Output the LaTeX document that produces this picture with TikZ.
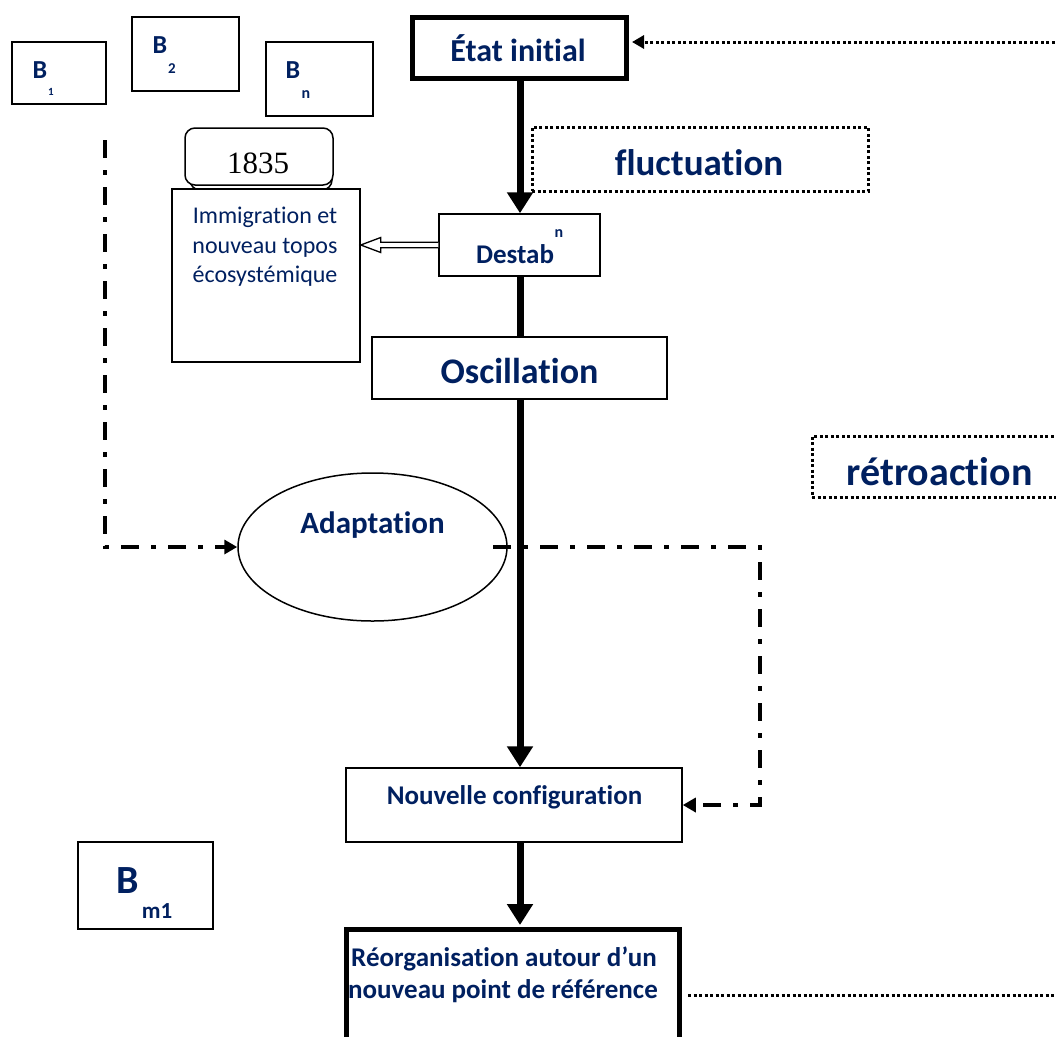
\documentclass[tikz,border=0pt]{standalone}
\usepackage{fontspec}
\setmainfont[Ligatures=NoCommon]{Carlito}
\newfontfamily\tnr{Liberation Serif}
\usetikzlibrary{arrows.meta,shapes.geometric,calc}
\definecolor{navy}{RGB}{0,32,96}
\begin{document}
\begin{tikzpicture}[x=1pt,y=-1pt,
 thinbox/.style={draw, line width=1.5pt, fill=white, inner sep=0pt},
 thickbox/.style={draw, line width=5pt, fill=white, inner sep=0pt},
 dotbox/.style={draw, line width=3pt, dash pattern=on 3pt off 2.5pt, inner sep=0pt},
 lbl/.style={text=navy, font=\bfseries\fontsize{#1}{#1}\selectfont, inner sep=0pt, anchor=base},
 rlbl/.style={text=navy, font=\fontsize{#1}{#1}\selectfont, inner sep=0pt, anchor=base},
 mainarrow/.style={line width=7pt, -{Triangle[width=25pt,length=21pt]}},
 mainline/.style={line width=7pt},
 dashdot/.style={line width=4pt, dash pattern=on 18pt off 12pt on 5pt off 12pt, -{Triangle[width=14pt,length=13pt]}},
 dotline/.style={line width=3pt, dash pattern=on 3pt off 2.5pt}
]
\fill[white] (0,0) rectangle (1056,1036);
\clip (0,0) rectangle (1056,1036);

% small B boxes
\node[thinbox, minimum width=94pt, minimum height=62pt] (B1) at (59,73) {};
\node[lbl=26] (B1t) at (40,78) {B};
\node[lbl=11] (B1s) at (51,95) {1};
\node[thinbox, minimum width=107pt, minimum height=74pt] (B2) at (185.5,54) {};
\node[lbl=26] (B2t) at (160,53) {B};
\node[lbl=15] (B2s) at (172,73) {2};
\node[thinbox, minimum width=107pt, minimum height=74pt] (Bn) at (319.5,79) {};
\node[lbl=26] (Bnt) at (293,78) {B};
\node[lbl=16] (Bns) at (306,98) {n};

% 1835 box with shadow and immigration box
\node[draw, line width=1.5pt, fill=white, rounded corners=10pt, minimum width=142pt, minimum height=55pt] (yrsh) at (261,162.5) {};
\node[draw, line width=1.5pt, fill=white, rounded corners=10pt, minimum width=148pt, minimum height=57pt] (yr) at (259,156.5) {};
\node[text=black, font=\tnr\fontsize{31}{31}\selectfont, inner sep=0pt, anchor=base] (yrt) at (258,173) {1835};
\node[thinbox, minimum width=188pt, minimum height=173pt] (immig) at (266,275.5) {};
\node[rlbl=24] (immig1) at (265,223) {Immigration et};
\node[rlbl=24] (immig2) at (265,253) {nouveau topos};
\node[rlbl=24] (immig3) at (265,282) {écosystémique};

% main column
\node[thickbox, minimum width=214pt, minimum height=61pt] (etat) at (519.5,48) {};
\node[lbl=32] (etatt) at (518,61) {État initial};
\node[dotbox, minimum width=336pt, minimum height=64pt] (fluct) at (700,159) {};
\node[lbl=37] (fluctt) at (699,175) {fluctuation};
\node[thinbox, minimum width=161pt, minimum height=62pt] (destab) at (519.5,245) {};
\node[lbl=27] (destabt) at (515,263) {Destab};
\node[lbl=16] (destabn) at (559,237) {n};
\node[thinbox, minimum width=295pt, minimum height=62pt] (osc) at (519.5,368) {};
\node[lbl=36] (osct) at (519.5,383) {Oscillation};
\node[draw, line width=1.5pt, ellipse, minimum width=269pt, minimum height=148pt, inner sep=0pt] (adapt) at (372.5,547) {};
\node[lbl=31] (adaptt) at (372.5,533) {Adaptation};
\node[thinbox, minimum width=336pt, minimum height=74pt] (nouv) at (514,805) {};
\node[lbl=27] (nouvt) at (514.5,804) {Nouvelle configuration};
\node[thickbox, minimum width=333pt, minimum height=150pt] (reorg) at (513,1004.5) {};
\node[lbl=27] (reorgt1) at (504,966) {Réorganisation autour d’un};
\node[lbl=27] (reorgt2) at (503,998) {nouveau point de référence};
\node[thinbox, minimum width=135pt, minimum height=87pt] (Bm) at (145.5,885.5) {};
\node[lbl=40] (Bmt) at (127.5,893) {B};
\node[lbl=23] (Bms) at (157,918) {m1};
\node[dotbox, minimum width=258pt, minimum height=61pt] (retro) at (941,466.5) {};
\node[lbl=40] (retrot) at (939.5,485) {rétroaction};

% main connectors
\draw[mainarrow] (etat.south -| 520,0) -- (destab.north -| 520,0);
\draw[mainline] (destab.south -| 520,0) -- (osc.north -| 520,0);
\draw[mainarrow] (osc.south -| 520,0) -- (nouv.north -| 520,0);
\draw[mainarrow] (nouv.south -| 520,0) -- ($(reorg.north -| 520,0)+(0,-2)$);

% open double arrow destab -> immigration
\coordinate (ie) at (immig.east |- destab.west);
\filldraw[fill=white, line width=1.3pt] ($(destab.west)+(0,-2.7)$) -- ($(ie)+(20,-2.7)$) -- ($(ie)+(20,-7.5)$) -- (ie) -- ($(ie)+(20,7.5)$) -- ($(ie)+(20,2.7)$) -- ($(destab.west)+(0,2.7)$);

% dash-dot connectors
\coordinate (b1start) at (105,140);
\draw[dashdot] (b1start) |- (adapt.west);
\coordinate (adstart) at (493,547);
\coordinate (adcorner) at (760,547);
\draw[dashdot] (adstart) -- (adcorner) |- (nouv.east);

% dotted feedback lines
\coordinate (fbtop) at (1060,42);
\coordinate (fbbot) at (1060,995);
\draw[dotline, -{Triangle[width=13pt,length=12pt]}] (fbtop) -- ($(etat.east |- fbtop)+(3,0)$);
\draw[dotline] ($(reorg.east |- fbbot)+(6,0)$) -- (fbbot);
\end{tikzpicture}
\end{document}
